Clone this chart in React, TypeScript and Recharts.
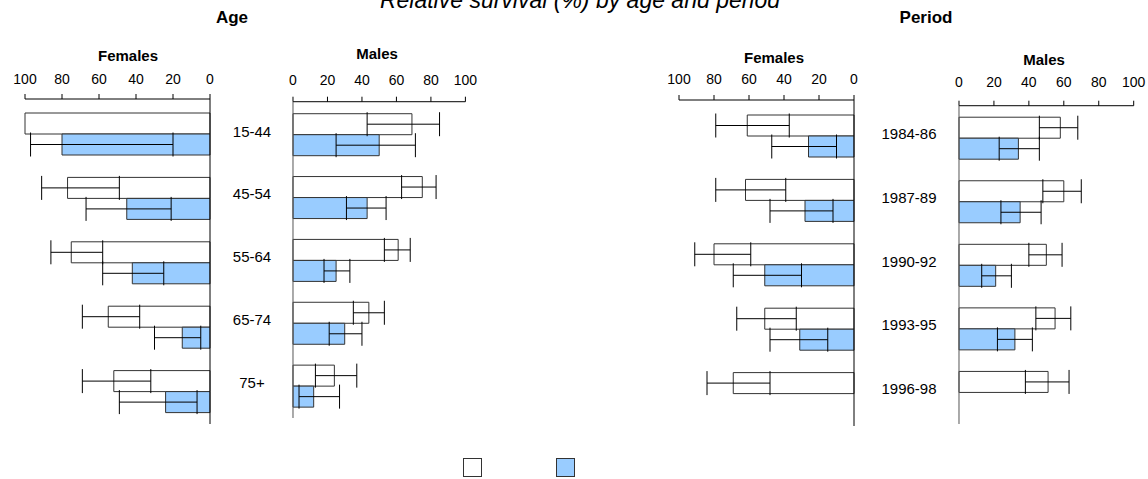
import React from 'react'
import { BarChart, Bar, XAxis, YAxis, ErrorBar } from 'recharts'

// Categories
const ageGroups = ['15-44', '45-54', '55-64', '65-74', '75+']
const periods = ['1984-86', '1987-89', '1990-92', '1993-95', '1996-98']
const axisTicks = [0, 20, 40, 60, 80, 100]

// Relative survival (%) - white bars (one-year) and blue bars (five-year), with 95% CI
const ageFemalesOneYear = [100, 77, 75, 55, 52]
const ageFemalesOneYearCI = [null, [49, 91], [58, 86], [38, 69], [32, 69]]
const ageFemalesFiveYear = [80, 45, 42, 15, 24]
const ageFemalesFiveYearCI = [[20, 97], [21, 67], [25, 58], [5, 30], [7, 49]]

const ageMalesOneYear = [69, 75, 61, 44, 24]
const ageMalesOneYearCI = [[43, 85], [63, 83], [53, 68], [35, 53], [13, 37]]
const ageMalesFiveYear = [50, 43, 25, 30, 12]
const ageMalesFiveYearCI = [[25, 71], [31, 54], [18, 33], [21, 40], [3.5, 27]]

const periodFemalesOneYear = [61, 62, 80, 51, 69]
const periodFemalesOneYearCI = [[37, 79], [39, 79], [59, 91], [33, 67], [48, 84]]
const periodFemalesFiveYear = [26, 28, 51, 31, null]
const periodFemalesFiveYearCI = [[10, 47], [12, 48], [30, 69], [15, 48], null]

const periodMalesOneYear = [58, 60, 50, 55, 51]
const periodMalesOneYearCI = [[46, 68], [48, 70], [40, 59], [44, 64], [38, 63]]
const periodMalesFiveYear = [34, 35, 21, 32, null]
const periodMalesFiveYearCI = [[23, 46], [24, 47], [13, 30], [22, 42], null]

const WHITE = '#ffffff'
const BLUE = '#99ccff'
const FONT = '"Liberation Sans", Arial, sans-serif'

// turn absolute CI bounds into the [below, above] offsets ErrorBar wants
const toErr = (v: number | null, ci: number[] | null) =>
    v != null && ci ? [v - ci[0], ci[1] - v] : undefined

const buildRows = (
    cats: string[],
    oneYear: (number | null)[],
    oneYearCI: (number[] | null)[],
    fiveYear: (number | null)[],
    fiveYearCI: (number[] | null)[]
) =>
    cats.map((cat, i) => ({
        cat,
        oneYear: oneYear[i],
        oneYearErr: toErr(oneYear[i], oneYearCI[i]),
        fiveYear: fiveYear[i],
        fiveYearErr: toErr(fiveYear[i], fiveYearCI[i]),
    }))

type PanelProps = {
    rows: ReturnType<typeof buildRows>
    females: boolean
    zeroX: number
    fullX: number
    axisY: number
    padTop: number
    bottom: number
    tickMargin: number
    labelOffset?: number
}

function Panel({ rows, females, zeroX, fullX, axisY, padTop, bottom, tickMargin, labelOffset = 41 }: PanelProps) {
    const xAxisH = 40
    const plotW = Math.abs(fullX - zeroX)
    const yW = females ? 2 : 80
    const marginLeft = females ? 25 : 0
    const marginRight = females ? 10 : 18
    const left = females ? fullX - marginLeft : zeroX - yW
    const width = females ? marginLeft + plotW + yW + marginRight : yW + plotW + marginRight

    return (
        <div style={{ position: 'absolute', left, top: 0 }}>
            <BarChart
                width={width}
                height={bottom}
                data={rows}
                layout="vertical"
                barGap={0}
                margin={{ top: axisY - xAxisH, right: marginRight, left: marginLeft, bottom: 0 }}
            >
                <XAxis
                    type="number"
                    orientation="top"
                    domain={[0, 100]}
                    ticks={axisTicks}
                    interval={0}
                    reversed={females}
                    height={xAxisH}
                    tickSize={5}
                    tickMargin={tickMargin}
                    stroke="#000"
                    tick={{ fill: '#000', fontSize: 14, fontFamily: FONT }}
                />
                {females ? (
                    <YAxis
                        type="category"
                        dataKey="cat"
                        orientation="right"
                        width={yW}
                        padding={{ top: padTop, bottom: 0 }}
                        tick={false}
                        tickLine={false}
                        stroke="#000"
                    />
                ) : (
                    <YAxis
                        type="category"
                        dataKey="cat"
                        orientation="left"
                        width={yW}
                        padding={{ top: padTop, bottom: 0 }}
                        tickLine={false}
                        tickSize={0}
                        tickMargin={0}
                        stroke="#555"
                        tick={(p: any) => (
                            <text
                                x={p.x - labelOffset}
                                y={p.y - 4}
                                textAnchor="middle"
                                dominantBaseline="central"
                                fontSize={15}
                                fontFamily={FONT}
                                fill="#000"
                            >
                                {p.payload.value}
                            </text>
                        )}
                    />
                )}
                <Bar dataKey="oneYear" fill={WHITE} stroke="#333" barSize={21} isAnimationActive={false}>
                    <ErrorBar dataKey="oneYearErr" direction="x" width={12} stroke="#000" strokeWidth={1} />
                </Bar>
                <Bar dataKey="fiveYear" fill={BLUE} stroke="#333" barSize={21} isAnimationActive={false}>
                    <ErrorBar dataKey="fiveYearErr" direction="x" width={12} stroke="#000" strokeWidth={1} />
                </Bar>
            </BarChart>
        </div>
    )
}

export default function App() {
    const ageFemales = buildRows(ageGroups, ageFemalesOneYear, ageFemalesOneYearCI, ageFemalesFiveYear, ageFemalesFiveYearCI)
    const ageMales = buildRows(ageGroups, ageMalesOneYear, ageMalesOneYearCI, ageMalesFiveYear, ageMalesFiveYearCI)
    const periodFemales = buildRows(periods, periodFemalesOneYear, periodFemalesOneYearCI, periodFemalesFiveYear, periodFemalesFiveYearCI)
    const periodMales = buildRows(periods, periodMalesOneYear, periodMalesOneYearCI, periodMalesFiveYear, periodMalesFiveYearCI)

    return (
        <div style={{ position: 'absolute', left: 0, top: 0, width: 1148, height: 479, background: '#fff', fontFamily: FONT, overflow: 'hidden' }}>
            <Panel rows={ageFemales} females zeroX={210} fullX={25} axisY={99} padTop={3} bottom={424} tickMargin={10} />
            <Panel rows={ageMales} females={false} zeroX={293.3} fullX={465.7} axisY={101.7} padTop={2} bottom={418} tickMargin={12} />
            <Panel rows={periodFemales} females zeroX={854.3} fullX={679.3} axisY={100} padTop={4} bottom={426} tickMargin={11} />
            <Panel rows={periodMales} females={false} zeroX={959.3} fullX={1134} axisY={105.7} padTop={0.5} bottom={424} tickMargin={14} labelOffset={50} />

            {/* titles */}
            <svg width={1148} height={479} style={{ position: 'absolute', left: 0, top: 0, pointerEvents: 'none' }}>
                <text x={580} y={8} textAnchor="middle" fontSize={23} fontStyle="italic" fontFamily={FONT}>
                    Relative survival (%) by age and period
                </text>
                <text x={232} y={17} textAnchor="middle" dominantBaseline="central" fontSize={17} fontWeight="bold" fontFamily={FONT}>Age</text>
                <text x={926} y={17} textAnchor="middle" dominantBaseline="central" fontSize={17} fontWeight="bold" fontFamily={FONT}>Period</text>
                <text x={128} y={55} textAnchor="middle" dominantBaseline="central" fontSize={15} fontWeight="bold" fontFamily={FONT}>Females</text>
                <text x={377} y={53} textAnchor="middle" dominantBaseline="central" fontSize={15} fontWeight="bold" fontFamily={FONT}>Males</text>
                <text x={774} y={57} textAnchor="middle" dominantBaseline="central" fontSize={15} fontWeight="bold" fontFamily={FONT}>Females</text>
                <text x={1044} y={59} textAnchor="middle" dominantBaseline="central" fontSize={15} fontWeight="bold" fontFamily={FONT}>Males</text>
            </svg>

            {/* legend swatches (no labels in the original) */}
            <div style={{ position: 'absolute', left: 463, top: 458, width: 17, height: 17, background: WHITE, border: '1px solid #333' }} />
            <div style={{ position: 'absolute', left: 556, top: 458, width: 17, height: 17, background: BLUE, border: '1px solid #333' }} />
        </div>
    )
}
